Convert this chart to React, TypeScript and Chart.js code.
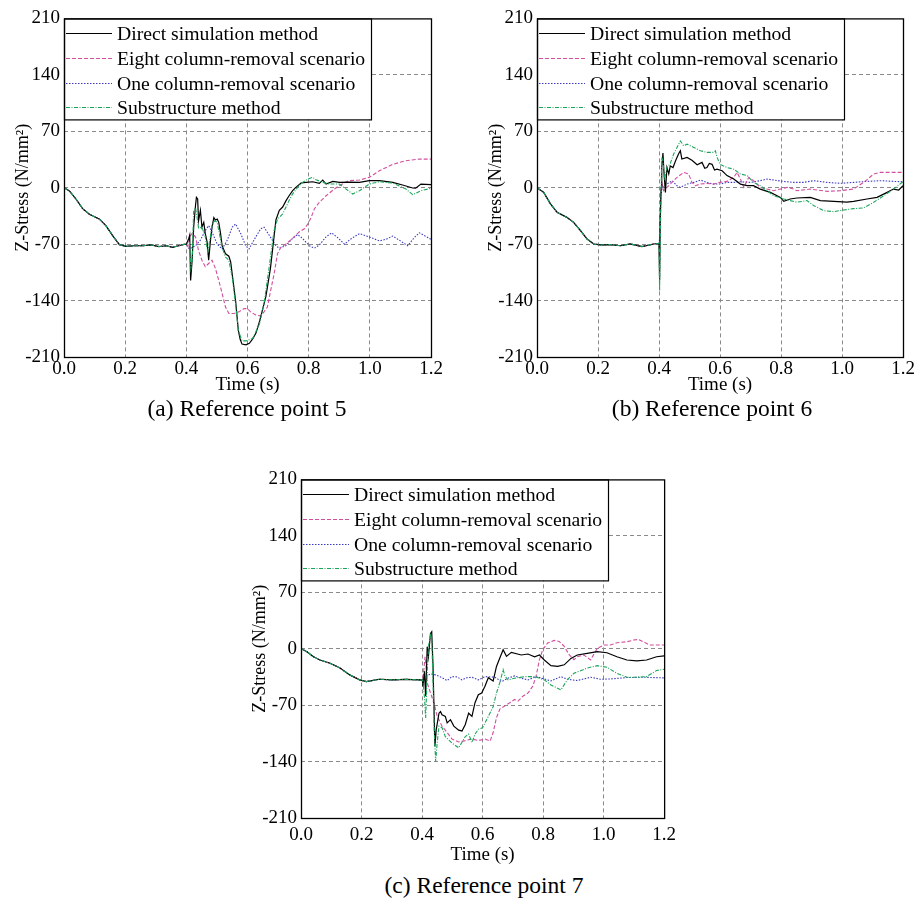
import React, { useEffect, useRef } from "react";
import { Chart, registerables } from "chart.js";
Chart.register(...registerables);

const FONT = "'Liberation Serif', 'Times New Roman', serif";

const seriesNames = [
  "Direct simulation method",
  "Eight column-removal scenario",
  "One column-removal scenario",
  "Substructure method",
];
const xTickValues = [0, 0.2, 0.4, 0.6, 0.8, 1.0, 1.2];
const yTickValues = [-210, -140, -70, 0, 70, 140, 210];
const captions = ["(a) Reference point 5", "(b) Reference point 6", "(c) Reference point 7"];

// ---------- Panel (a): reference point 5 ----------
const aBaseT = [0, 0.017, 0.039, 0.061, 0.083, 0.1, 0.116, 0.137, 0.159, 0.181, 0.203, 0.23, 0.257, 0.285, 0.31, 0.335, 0.355, 0.375, 0.388, 0.4];
const aBaseV = [0, -3.7, -14, -26, -33, -36, -39, -47, -59.5, -70.6, -72.7, -72, -72, -71, -73, -72, -74, -72, -70.6, -70];

const aDirectT = [0.408, 0.411, 0.414, 0.419, 0.424, 0.43, 0.433, 0.437, 0.44, 0.446, 0.451, 0.457, 0.462, 0.468, 0.473, 0.479, 0.484, 0.49, 0.495, 0.501, 0.506, 0.512, 0.517, 0.528, 0.539, 0.545, 0.55, 0.561, 0.57, 0.576, 0.582, 0.595, 0.606, 0.617, 0.628, 0.64, 0.66, 0.675, 0.687, 0.693, 0.704, 0.715, 0.726, 0.736, 0.747, 0.758, 0.775, 0.791, 0.813, 0.835, 0.846, 0.857, 0.879, 0.901, 0.93, 0.966, 0.998, 1.031, 1.075, 1.107, 1.14, 1.15, 1.167, 1.2];
const aDirectV = [-63, -59, -115, -90, -49, -22, -12, -14, -41, -28, -49, -43, -57, -67.5, -90, -65, -49, -37, -40, -39, -43, -57, -72, -82, -85, -92, -107, -140, -177, -188, -194, -195, -193, -187.5, -180, -165, -135, -100, -60, -40, -28, -24, -16, -10, -4, 0.4, 5.8, 6.6, 7.4, 5.4, 9.5, 4.5, 7.8, 6.6, 7, 6.6, 8.7, 8.7, 6.6, 3.3, -0.4, -0.5, 4.5, 3.7];

const aEightT = [0.405, 0.412, 0.419, 0.43, 0.44, 0.451, 0.462, 0.473, 0.484, 0.495, 0.506, 0.517, 0.528, 0.539, 0.556, 0.572, 0.589, 0.6, 0.61, 0.627, 0.643, 0.654, 0.665, 0.676, 0.687, 0.698, 0.709, 0.725, 0.747, 0.769, 0.786, 0.797, 0.808, 0.819, 0.835, 0.857, 0.873, 0.89, 0.93, 0.966, 0.998, 1.031, 1.075, 1.118, 1.162, 1.2];
const aEightV = [-73, -60, -57, -61, -78, -90, -98, -94, -90, -100, -115, -131, -148, -156, -156, -154, -150, -150, -154, -158, -159, -154, -148, -127, -107, -82, -74, -70, -63, -55, -51, -45, -37, -26, -18, -10, -5, 0, 8.7, 9.5, 12.8, 21, 29, 33.5, 35.5, 35.5];

const aOneT = [0.41, 0.43, 0.446, 0.462, 0.473, 0.484, 0.501, 0.517, 0.534, 0.55, 0.561, 0.578, 0.594, 0.605, 0.621, 0.643, 0.654, 0.671, 0.693, 0.704, 0.725, 0.747, 0.764, 0.78, 0.802, 0.819, 0.835, 0.857, 0.875, 0.895, 0.917, 0.94, 0.966, 0.998, 1.031, 1.053, 1.075, 1.1, 1.124, 1.145, 1.162, 1.2];
const aOneV = [-76, -72, -65, -53, -47, -55, -70, -76, -65, -49, -45, -57, -72, -76, -65, -51, -49, -59, -72, -75, -72, -63, -58, -63, -72, -75, -71, -61, -56, -62, -70, -63, -57, -61, -66, -64, -60, -66, -72, -62, -56, -64];

const aSubT = [0.41, 0.415, 0.419, 0.424, 0.43, 0.435, 0.44, 0.451, 0.462, 0.47, 0.479, 0.484, 0.493, 0.501, 0.506, 0.517, 0.528, 0.539, 0.55, 0.561, 0.57, 0.582, 0.595, 0.617, 0.639, 0.654, 0.671, 0.687, 0.698, 0.715, 0.726, 0.736, 0.747, 0.764, 0.78, 0.797, 0.813, 0.824, 0.846, 0.868, 0.9, 0.944, 0.966, 0.998, 1.031, 1.075, 1.118, 1.14, 1.167, 1.2];
const aSubV = [-68, -100, -90, -28, -25, -37, -50, -49, -61, -80, -60, -47, -41, -43, -53, -74, -86, -90, -111, -144, -177, -190, -190, -187, -169, -144, -98, -53, -39, -32.5, -24, -16, -8, 0.4, 6.6, 10.7, 12.8, 10, 6.6, 4.5, 4.5, -7.8, -3.7, 4.5, 7.4, 5.8, -1.6, -8.7, -3.7, -0.8];

// ---------- Panel (b): reference point 6 ----------
const bBaseT = [0, 0.022, 0.044, 0.066, 0.098, 0.12, 0.142, 0.164, 0.186, 0.208, 0.24, 0.273, 0.306, 0.344, 0.383, 0.4];
const bBaseV = [0, -5.8, -20, -30.6, -36.8, -43, -53, -63.6, -69.8, -71, -70.5, -72, -69.8, -73, -69.8, -69];

const bDirectT = [0.402, 0.404, 0.407, 0.409, 0.413, 0.416, 0.421, 0.426, 0.432, 0.437, 0.446, 0.454, 0.464, 0.47, 0.475, 0.492, 0.508, 0.525, 0.541, 0.55, 0.557, 0.565, 0.574, 0.582, 0.59, 0.607, 0.623, 0.645, 0.667, 0.689, 0.71, 0.732, 0.765, 0.798, 0.809, 0.83, 0.852, 0.896, 0.929, 0.973, 1.016, 1.038, 1.082, 1.115, 1.148, 1.169, 1.186, 1.2];
const bDirectV = [-115, -41, 0, 25, 43, 21, -5.8, 25, 17, 27, 25, 33, 41.7, 45.8, 35.5, 37.6, 34, 28.5, 31.4, 24, 25, 30, 29, 22, 23, 21, 15, 10.7, 4.5, 2.5, 2.5, -1.7, -5.8, -12, -17, -14, -12.8, -12, -16, -17, -18, -17, -14, -12, -5.8, -1.7, -2.9, 2.5];

const bEightT = [0.402, 0.405, 0.41, 0.415, 0.437, 0.459, 0.481, 0.497, 0.508, 0.519, 0.536, 0.557, 0.579, 0.6, 0.623, 0.645, 0.656, 0.667, 0.678, 0.694, 0.71, 0.732, 0.754, 0.776, 0.798, 0.82, 0.842, 0.852, 0.896, 0.951, 0.995, 1.038, 1.071, 1.104, 1.126, 1.169, 1.2];
const bEightV = [-90, -10, 5, -3.7, 4.5, 12.8, 19, 17, 6.6, 2.5, 4.5, 5.4, 4.5, 6.6, 7.8, 12.8, 19, 10.7, 0.4, 12.8, 8.7, 0.4, -1.7, -3.7, -1.7, 0.4, -1.7, -3.7, -1.7, -4.5, -3.7, -1.7, 6.6, 17, 19, 19, 19];

const bOneT = [0.403, 0.406, 0.41, 0.426, 0.443, 0.459, 0.47, 0.492, 0.514, 0.536, 0.557, 0.579, 0.6, 0.623, 0.645, 0.667, 0.7, 0.732, 0.754, 0.776, 0.809, 0.841, 0.874, 0.907, 0.951, 0.995, 1.038, 1.082, 1.126, 1.169, 1.2];
const bOneV = [-60, -10, 0.4, 4.5, 8.7, 2.5, 0.4, 4.5, 6.6, 9.5, 6.6, 4.5, 4.5, 6.6, 6.6, 7.4, 6.6, 8.7, 10.7, 9.5, 7.8, 6.6, 6.6, 8.7, 6.6, 5.4, 6.6, 7.8, 8.7, 7.8, 7.4];

const bSubT = [0.401, 0.402, 0.404, 0.406, 0.409, 0.413, 0.418, 0.426, 0.437, 0.448, 0.459, 0.47, 0.481, 0.492, 0.514, 0.536, 0.557, 0.579, 0.585, 0.59, 0.6, 0.623, 0.645, 0.667, 0.689, 0.71, 0.732, 0.754, 0.776, 0.809, 0.83, 0.852, 0.885, 0.907, 0.94, 0.973, 1.005, 1.038, 1.071, 1.104, 1.137, 1.169, 1.2];
const bSubV = [-100, -127.6, -74, -20, 37.6, 33.5, 10, 25, 30, 41.7, 50, 58, 52, 54, 50, 45.8, 43.8, 43.8, 45.8, 38, 29, 25, 23, 17, 15, 6.6, 2.5, -3.7, -10, -14, -16, -18, -16, -22, -28.5, -29.7, -27.7, -26, -25, -18, -10, -1.7, 7.4];

// ---------- Panel (c): reference point 7 ----------
const cBaseT = [0, 0.0196, 0.041, 0.063, 0.096, 0.129, 0.161, 0.194, 0.216, 0.259, 0.303, 0.347, 0.39, 0.401];
const cBaseV = [0, -3.7, -10, -14, -18, -24, -32.5, -38.7, -40.8, -37.9, -38.7, -38, -38.7, -38.7];

const cDirectT = [0.403, 0.408, 0.412, 0.417, 0.421, 0.428, 0.432, 0.436, 0.4425, 0.447, 0.456, 0.461, 0.466, 0.477, 0.483, 0.494, 0.505, 0.521, 0.532, 0.543, 0.554, 0.565, 0.575, 0.586, 0.597, 0.608, 0.619, 0.635, 0.646, 0.657, 0.668, 0.679, 0.695, 0.728, 0.75, 0.772, 0.788, 0.804, 0.826, 0.848, 0.87, 0.892, 0.913, 0.946, 0.979, 1.011, 1.044, 1.077, 1.11, 1.142, 1.175, 1.2];
const cDirectV = [-47, -28, -59, 2.5, -10, 19, 21, -18, -121, -100, -80, -78, -82, -84, -92, -88, -96, -101, -102, -94, -80, -84, -67, -57, -55, -46.5, -36, -40, -22, -11.5, -1.2, -9.5, -4.5, -7.8, -6.6, -10, -7.8, -14, -21, -22, -20, -12, -7.8, -5.8, -3.7, -5, -10, -14, -15, -14, -10, -9];

const cEightT = [0.405, 0.41, 0.414, 0.417, 0.428, 0.439, 0.45, 0.466, 0.483, 0.499, 0.521, 0.543, 0.565, 0.586, 0.608, 0.625, 0.635, 0.646, 0.657, 0.673, 0.69, 0.706, 0.717, 0.733, 0.75, 0.766, 0.777, 0.788, 0.799, 0.815, 0.837, 0.853, 0.87, 0.886, 0.902, 0.913, 0.935, 0.957, 0.979, 1.0, 1.022, 1.044, 1.077, 1.099, 1.115, 1.131, 1.153, 1.2];
const cEightV = [-30, -10, -25, -42, -55, -67, -83.6, -96, -104, -112, -115.7, -114, -112, -114, -112, -114.6, -104, -85.6, -75, -71, -67, -63, -65, -59, -55, -46.5, -34, -13.6, -1.2, 7, 10.3, 9, 2.9, -7.4, -13.6, -10, -7.8, -14, 0.4, 4.5, 4.5, 7.4, 8.6, 10.7, 11.5, 8.6, 4.5, 4.5];

const cOneT = [0.412, 0.428, 0.445, 0.466, 0.483, 0.499, 0.516, 0.532, 0.548, 0.565, 0.586, 0.608, 0.641, 0.663, 0.684, 0.706, 0.728, 0.75, 0.777, 0.804, 0.826, 0.859, 0.88, 0.913, 0.957, 0.99, 1.022, 1.077, 1.131, 1.2];
const cOneV = [-34.6, -31.3, -32.5, -35.8, -39.5, -34.6, -35, -38.7, -36, -35.4, -38.7, -34.6, -35.4, -40.8, -36.6, -33.8, -36.6, -38.7, -34.6, -37.5, -40, -34.6, -37.9, -39.5, -35.4, -37.9, -37.5, -35.8, -35.4, -36.2];

const cSubT = [0.403, 0.408, 0.412, 0.417, 0.421, 0.428, 0.432, 0.436, 0.44, 0.445, 0.45, 0.456, 0.466, 0.477, 0.488, 0.499, 0.51, 0.521, 0.532, 0.543, 0.554, 0.565, 0.575, 0.586, 0.6, 0.619, 0.635, 0.646, 0.657, 0.668, 0.674, 0.684, 0.706, 0.739, 0.772, 0.804, 0.826, 0.859, 0.88, 0.902, 0.946, 0.979, 1.011, 1.044, 1.077, 1.11, 1.142, 1.175, 1.2];
const cSubV = [-40, -60, -86, -30, 2.5, 17, 12, -38.7, -100, -140, -117, -96, -98, -109, -113, -117, -120, -123, -116, -109, -106, -116.5, -106, -100, -98, -84, -72, -55, -42, -26, -34, -38.7, -36.6, -34.6, -34.6, -38.7, -45, -51, -38.7, -30.5, -24, -21, -23, -30.5, -35.4, -35.4, -34.6, -27, -25.5];

const seriesStyles = [
  { color: "#000000", dash: [] as number[], width: 1.2, order: 1 },
  { color: "#d24fa0", dash: [4, 2], width: 1.1, order: 2 },
  { color: "#3b3bbf", dash: [1.5, 1.5], width: 1.1, order: 3 },
  { color: "#1aa65a", dash: [4, 1.5, 1, 1.5], width: 1.1, order: 0 },
];

const join = (bt: number[], bv: number[], t: number[], v: number[]) => {
  const vs = bv.concat(v);
  return bt.concat(t).map((x, i) => ({ x, y: vs[i] }));
};

type PanelSpec = {
  left: number; top: number; plotW: number; plotH: number;
  xAxisH: number; tickPad: number;
  series: { t: number[]; v: number[] }[];
  baseT: number[]; baseV: number[];
};

const panels: PanelSpec[] = [
  { left: 64, top: 17, plotW: 367, plotH: 340, xAxisH: 39, tickPad: 1, baseT: aBaseT, baseV: aBaseV,
    series: [{ t: aDirectT, v: aDirectV }, { t: aEightT, v: aEightV }, { t: aOneT, v: aOneV }, { t: aSubT, v: aSubV }] },
  { left: 537, top: 17, plotW: 366, plotH: 340, xAxisH: 39, tickPad: 1, baseT: bBaseT, baseV: bBaseV,
    series: [{ t: bDirectT, v: bDirectV }, { t: bEightT, v: bEightV }, { t: bOneT, v: bOneV }, { t: bSubT, v: bSubV }] },
  { left: 301, top: 478, plotW: 367, plotH: 340, xAxisH: 48, tickPad: 6, baseT: cBaseT, baseV: cBaseV,
    series: [{ t: cDirectT, v: cDirectV }, { t: cEightT, v: cEightV }, { t: cOneT, v: cOneV }, { t: cSubT, v: cSubV }] },
];

const Y_AXIS_W = 64;
const PAD_TOP = 14;
const PAD_RIGHT = 14;
const LEG_W = 307;
const LEG_H = 101;

const framePlugin = {
  id: "frameLegend",
  afterDatasetsDraw(chart: any) {
    const { ctx, chartArea: a } = chart;
    ctx.save();
    ctx.fillStyle = "#ffffff";
    ctx.fillRect(a.left, a.top, LEG_W, LEG_H);
    ctx.strokeStyle = "#000";
    ctx.lineWidth = 1.2;
    ctx.setLineDash([]);
    ctx.strokeRect(a.left + 0.5, a.top + 0.5, LEG_W, LEG_H);
    seriesNames.forEach((name, i) => {
      const st = seriesStyles[i];
      const y = Math.round(a.top + 14.5 + i * 24.8) + 0.5;
      ctx.beginPath();
      ctx.setLineDash(st.dash);
      ctx.strokeStyle = st.color;
      ctx.lineWidth = st.width;
      ctx.moveTo(a.left + 2, y);
      ctx.lineTo(a.left + 48, y);
      ctx.stroke();
      ctx.setLineDash([]);
      ctx.fillStyle = "#000";
      ctx.font = `19.7px ${FONT}`;
      ctx.textBaseline = "middle";
      ctx.textAlign = "left";
      ctx.fillText(name, a.left + 53, y + 1);
    });
    ctx.lineWidth = 1.3;
    ctx.strokeStyle = "#000";
    ctx.strokeRect(a.left + 0.5, a.top + 0.5, a.right - a.left, a.bottom - a.top);
    ctx.restore();
  },
};

function Panel({ spec }: { spec: PanelSpec }) {
  const ref = useRef<HTMLCanvasElement>(null);
  const cw = Y_AXIS_W + spec.plotW + PAD_RIGHT;
  const chh = PAD_TOP + spec.plotH + spec.xAxisH;
  useEffect(() => {
    const gridColor = (n: number) => (c: any) =>
      c.index === 0 || c.index === n - 1 ? "rgba(0,0,0,0)" : "#8a8a8a";
    const chart = new Chart(ref.current!, {
      type: "line",
      data: {
        datasets: spec.series.map((s, i) => ({
          label: seriesNames[i],
          data: join(spec.baseT, spec.baseV, s.t, s.v),
          borderColor: seriesStyles[i].color,
          borderDash: seriesStyles[i].dash,
          borderWidth: seriesStyles[i].width,
          order: seriesStyles[i].order,
          pointRadius: 0,
          tension: 0,
          fill: false,
        })),
      },
      options: {
        animation: false,
        responsive: false,
        events: [],
        layout: { padding: { left: 0, top: PAD_TOP, right: PAD_RIGHT, bottom: 0 } },
        plugins: { legend: { display: false }, tooltip: { enabled: false } },
        scales: {
          x: {
            type: "linear",
            min: 0,
            max: 1.2,
            afterFit: (s: any) => { s.height = spec.xAxisH; },
            afterBuildTicks: (s: any) => { s.ticks = xTickValues.map((v) => ({ value: v })); },
            ticks: {
              color: "#000",
              padding: spec.tickPad,
              maxRotation: 0,
              autoSkip: false,
              font: { family: FONT, size: 19 },
              callback: (v: any) => Number(v).toFixed(1),
            },
            grid: { color: gridColor(xTickValues.length), drawTicks: false, lineWidth: 1 },
            border: { display: false, dash: [4, 3] },
            title: { display: true, text: "Time (s)", color: "#000", font: { family: FONT, size: 19 }, padding: { top: 0, bottom: 0 } },
          },
          y: {
            type: "linear",
            min: -210,
            max: 210,
            afterFit: (s: any) => { s.width = Y_AXIS_W; },
            afterBuildTicks: (s: any) => { s.ticks = yTickValues.map((v) => ({ value: v })); },
            ticks: { color: "#000", padding: 4, autoSkip: false, font: { family: FONT, size: 19 } },
            grid: { color: gridColor(yTickValues.length), drawTicks: false, lineWidth: 1 },
            border: { display: false, dash: [4, 3] },
            title: { display: true, text: "Z-Stress (N/mm²)", color: "#000", font: { family: FONT, size: 18 }, padding: { top: 12, bottom: 0 } },
          },
        },
      },
      plugins: [framePlugin],
    } as any);
    return () => chart.destroy();
  }, []);
  return (
    <canvas
      ref={ref}
      width={cw}
      height={chh}
      style={{ position: "absolute", left: spec.left - Y_AXIS_W, top: spec.top - PAD_TOP, width: cw, height: chh }}
    />
  );
}

const captionPos = [
  { cx: 247, cy: 408 },
  { cx: 712, cy: 408 },
  { cx: 484, cy: 885 },
];

export default function App() {
  return (
    <div style={{ position: "absolute", left: 0, top: 0, width: 917, height: 905, background: "#fff", overflow: "hidden" }}>
      {panels.map((p, i) => (
        <Panel key={i} spec={p} />
      ))}
      {captions.map((c, i) => (
        <div
          key={c}
          style={{
            position: "absolute",
            left: captionPos[i].cx - 200,
            width: 400,
            top: captionPos[i].cy - 14,
            height: 28,
            lineHeight: "28px",
            textAlign: "center",
            fontFamily: FONT,
            fontSize: 23.5,
            color: "#000",
          }}
        >
          {c}
        </div>
      ))}
    </div>
  );
}
